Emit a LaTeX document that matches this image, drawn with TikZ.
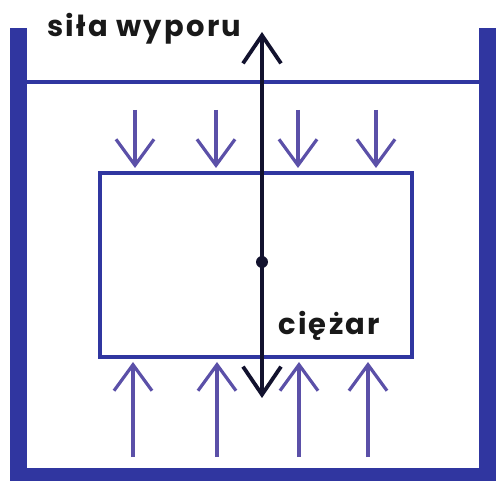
\documentclass[tikz,border=0pt]{standalone}
\usepackage{fontspec}
\setmainfont{Poppins}
\usetikzlibrary{arrows.meta}

\definecolor{vessel}{HTML}{3036A0}
\definecolor{press}{HTML}{5B50A8}
\definecolor{force}{HTML}{12122E}

\tikzset{
  boxline/.style={draw=vessel, line width=4.5pt},
  pressarrow/.style={press, line width=3.2pt, -{Straight Barb[length=26pt, width=38pt]}},
  forcearrow/.style={force, line width=3.8pt, -{Straight Barb[length=28pt, width=38pt]}},
  tag/.style={font=\fontsize{29}{29}\selectfont\bfseries\addfontfeatures{LetterSpace=8}, text=black!90, inner sep=0pt}
}

\begin{document}
\begin{tikzpicture}[x=1pt, y=-1pt]
    \useasboundingbox (0,0) rectangle (496,481);
    % vessel
    \fill[vessel] (10,28) rectangle (27,481);
    \fill[vessel] (479,28) rectangle (496,481);
    \fill[vessel] (10,468) rectangle (496,481);
    \draw[vessel, line width=4pt] (27,82) -- (479,82);

    % immersed body
    \node[boxline, minimum width=312pt, minimum height=184pt, inner sep=0pt] (body) at (256,265) {};

    % pressure on the faces
    \foreach \x [count=\i] in {135,216,298,376} {
        \coordinate (dtop\i) at (\x,110);
        \coordinate (dend\i) at (\x,168);
        \draw[pressarrow] (dtop\i) -- (dend\i);
    }
    \foreach \x [count=\i] in {133,217,299,368} {
        \coordinate (ubot\i) at (\x,457);
        \coordinate (uend\i) at (\x,362);
        \draw[pressarrow] (ubot\i) -- (uend\i);
    }

    % forces
    \coordinate (cg) at (262,262);
    \coordinate (up) at (262,32);
    \coordinate (down) at (262,398);
    \draw[forcearrow] (cg) -- (up);
    \draw[forcearrow] (cg) -- (down);
    \fill[force] (cg) circle (6pt);

    \node[tag, anchor=base west] (buoy) at (47,37) {siła wyporu};
    \node[tag, anchor=base west] (weight) at (278,335) {ciężar};
\end{tikzpicture}
\end{document}
